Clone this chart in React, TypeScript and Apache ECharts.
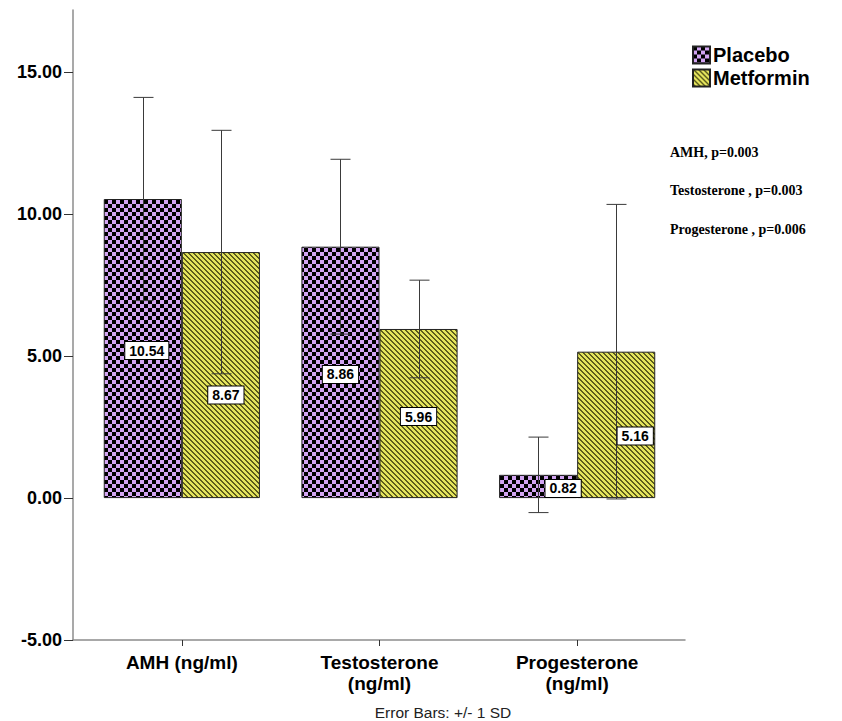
import React, { useEffect, useRef } from "react";
import * as echarts from "echarts";

const categories = ["AMH (ng/ml)", "Testosterone\n(ng/ml)", "Progesterone\n(ng/ml)"];
const seriesNames = ["Placebo", "Metformin"];
const placeboMean = [10.54, 8.86, 0.82];
const placeboSD = [3.58, 3.08, 1.33];
const metforminMean = [8.67, 5.96, 5.16];
const metforminSD = [4.29, 1.72, 5.19];
const yTicks = [-5, 0, 5, 10, 15];
const pValueNotes = ["AMH, p=0.003", "Testosterone , p=0.003", "Progesterone , p=0.006"];
const footnote = "Error Bars: +/- 1 SD";

// label nudges (pixels) for the value boxes: [series][category]
const labelNudge = [
  [[4, 2], [0, 2], [25, 2]],
  [[5, 20], [0, 3], [19, 11]],
];

const Y_MIN = -5;
const Y_MAX = 17.2;
const BAR_FRAC = 0.395;

function makeChecker(): HTMLCanvasElement {
  const c = document.createElement("canvas");
  c.width = 8;
  c.height = 8;
  const ctx = c.getContext("2d")!;
  ctx.fillStyle = "#d2a4f2";
  ctx.fillRect(0, 0, 8, 8);
  ctx.fillStyle = "#000000";
  ctx.fillRect(0, 0, 4, 4);
  ctx.fillRect(4, 4, 4, 4);
  return c;
}

function makeStripes(): HTMLCanvasElement {
  const n = 5;
  const c = document.createElement("canvas");
  c.width = n;
  c.height = n;
  const ctx = c.getContext("2d")!;
  for (let y = 0; y < n; y++) {
    for (let x = 0; x < n; x++) {
      const d = (((x - y) % n) + n) % n;
      ctx.fillStyle = d < 2 ? "#5c5c1c" : "#e4e45c";
      ctx.fillRect(x, y, 1, 1);
    }
  }
  return c;
}

export default function App() {
  const ref = useRef<HTMLDivElement>(null);

  useEffect(() => {
    if (!ref.current) return;
    const chart = echarts.init(ref.current, undefined, { renderer: "svg" });
    const checker = makeChecker();
    const stripes = makeStripes();
    const fills = [
      { image: checker, repeat: "repeat" },
      { image: stripes, repeat: "repeat" },
    ];
    const means = [placeboMean, metforminMean];
    const sds = [placeboSD, metforminSD];

    const errData: number[][] = [];
    const labelData: number[][] = [];
    for (let s = 0; s < 2; s++) {
      for (let i = 0; i < categories.length; i++) {
        errData.push([i, means[s][i] - sds[s][i], means[s][i] + sds[s][i], s]);
        labelData.push([i, means[s][i], s]);
      }
    }

    const axisColor = "#8c8c8c";
    const sans = "Arial, 'Liberation Sans', sans-serif";

    const option: any = {
      animation: false,
      backgroundColor: "#ffffff",
      grid: [
        { left: 73, right: 157, top: 10, bottom: 81 },
        { left: 83, right: 166, top: 10, bottom: 81 },
      ],
      xAxis: [
        {
          type: "value",
          gridIndex: 0,
          min: 0,
          max: 1,
          axisLine: { show: true, onZero: false, lineStyle: { color: axisColor, width: 1.5 } },
          axisTick: { show: false },
          axisLabel: { show: false },
          splitLine: { show: false },
        },
        {
          type: "category",
          gridIndex: 1,
          data: categories,
          axisLine: { show: false, onZero: false },
          axisTick: { show: true, alignWithLabel: true, length: 6, lineStyle: { color: "#333" } },
          axisLabel: {
            color: "#000",
            fontFamily: sans,
            fontWeight: "bold",
            fontSize: 19,
            lineHeight: 21,
            margin: 12,
            interval: 0,
          },
          splitLine: { show: false },
        },
      ],
      yAxis: [
        {
          type: "value",
          gridIndex: 0,
          min: Y_MIN,
          max: Y_MAX,
          interval: 5,
          axisLine: { show: true, lineStyle: { color: axisColor, width: 1.5 } },
          axisTick: { show: true, length: 9, lineStyle: { color: "#333" }, customValues: yTicks },
          axisLabel: {
            color: "#000",
            fontFamily: sans,
            fontWeight: "bold",
            fontSize: 18,
            margin: 11,
            customValues: yTicks,
            formatter: (v: number) => v.toFixed(2),
          },
          splitLine: { show: false },
        },
        {
          type: "value",
          gridIndex: 1,
          min: Y_MIN,
          max: Y_MAX,
          interval: 5,
          show: false,
          splitLine: { show: false },
        },
      ],
      legend: {
        orient: "vertical",
        left: 687,
        top: 40,
        itemWidth: 17,
        itemHeight: 17,
        itemGap: 3,
        icon: "rect",
        data: seriesNames,
        textStyle: {
          color: "#000",
          fontFamily: sans,
          fontWeight: "bold",
          fontSize: 20,
          padding: [0, 0, 0, -2],
        },
      },
      series: [
        ...seriesNames.map((name, s) => ({
          name,
          type: "bar",
          xAxisIndex: 1,
          yAxisIndex: 1,
          barWidth: (BAR_FRAC * 100).toFixed(1) + "%",
          barGap: "0%",
          z: 2,
          data: means[s],
          itemStyle: { color: fills[s], borderColor: "#222", borderWidth: 1 },
          label: { show: false },
        })),
        {
          type: "custom",
          xAxisIndex: 1,
          yAxisIndex: 1,
          z: 3,
          silent: true,
          data: errData,
          renderItem: (params: any, api: any) => {
            const cat = api.value(0);
            const lo = api.value(1);
            const hi = api.value(2);
            const s = api.value(3);
            const band = api.size([1, 0])[0];
            const off = ((s === 0 ? -1 : 1) * band * BAR_FRAC) / 2;
            const pLo = api.coord([cat, lo]);
            const pHi = api.coord([cat, hi]);
            const x = Math.round(pLo[0] + off) + 0.5;
            const cap = 10;
            const st = { stroke: "#3a3a3a", lineWidth: 1 };
            return {
              type: "group",
              children: [
                { type: "line", shape: { x1: x, y1: pHi[1], x2: x, y2: pLo[1] }, style: st },
                { type: "line", shape: { x1: x - cap, y1: pHi[1], x2: x + cap, y2: pHi[1] }, style: st },
                { type: "line", shape: { x1: x - cap, y1: pLo[1], x2: x + cap, y2: pLo[1] }, style: st },
              ],
            };
          },
        },
        {
          type: "custom",
          xAxisIndex: 1,
          yAxisIndex: 1,
          z: 4,
          silent: true,
          data: labelData,
          renderItem: (params: any, api: any) => {
            const cat = api.value(0);
            const v = api.value(1);
            const s = api.value(2);
            const band = api.size([1, 0])[0];
            const off = ((s === 0 ? -1 : 1) * band * BAR_FRAC) / 2;
            const p = api.coord([cat, v / 2]);
            const nudge = labelNudge[s][cat];
            return {
              type: "text",
              x: p[0] + off + nudge[0],
              y: p[1] + nudge[1],
              style: {
                text: v.toFixed(2),
                font: "bold 14px Arial, 'Liberation Sans', sans-serif",
                fill: "#000",
                align: "center",
                verticalAlign: "middle",
                backgroundColor: "#fff",
                borderColor: "#000",
                borderWidth: 1,
                padding: [2, 4, 1, 4],
              },
            };
          },
        },
      ],
      graphic: [
        ...pValueNotes.map((t, i) => ({
          type: "text",
          left: 670,
          top: 145 + i * 38.5,
          style: {
            text: t,
            font: "bold 14px 'Liberation Serif', 'Times New Roman', serif",
            fill: "#000",
          },
        })),
        {
          type: "text",
          x: 443,
          y: 712,
          style: {
            text: footnote,
            font: "15.5px Arial, 'Liberation Sans', sans-serif",
            fill: "#222",
            align: "center",
            verticalAlign: "middle",
          },
        },
      ],
    };

    chart.setOption(option);
    return () => chart.dispose();
  }, []);

  return (
    <div
      ref={ref}
      style={{ position: "fixed", left: 0, top: 0, width: 842, height: 721, background: "#fff" }}
    />
  );
}
